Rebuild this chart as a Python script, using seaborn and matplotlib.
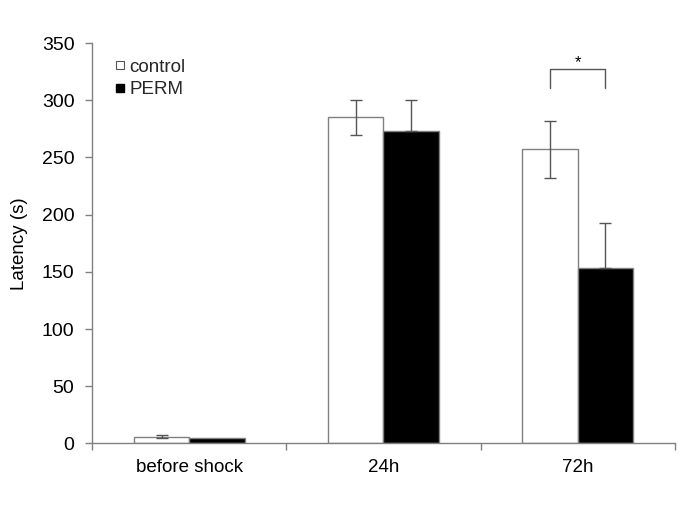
import matplotlib
matplotlib.use("Agg")
import matplotlib.pyplot as plt
import seaborn as sns
import pandas as pd
import numpy as np
from matplotlib.lines import Line2D

categories = ["before shock", "24h", "72h"]
groups = ["control", "PERM"]
control_vals = [6, 285, 257]
perm_vals = [4.5, 273, 153]
control_err = [1, 15, 25]
perm_err = [0, 27, 40]
yticks = [0, 50, 100, 150, 200, 250, 300, 350]

df = pd.DataFrame({
    "cat": categories * 2,
    "group": [groups[0]] * 3 + [groups[1]] * 3,
    "val": control_vals + perm_vals,
})

sns.set_theme(style="white")
plt.rcParams['font.family'] = ['Liberation Sans', 'DejaVu Sans']

fig = plt.figure(figsize=(6.85, 5.13), dpi=100)
ax = fig.add_axes([0.135, 0.1355, 0.8497, 0.7805])

gray = "#808080"
sns.barplot(data=df, x="cat", y="val", hue="group", order=categories,
            hue_order=groups, palette=["white", "black"], width=0.572,
            gap=0, errorbar=None, edgecolor=gray, linewidth=1.0,
            legend=False, ax=ax)

bar_containers = list(ax.containers)

# error bars
errs = [control_err, perm_err]
for ci, cont in enumerate(bar_containers):
    for bi, bar in enumerate(cont):
        x = bar.get_x() + bar.get_width() / 2
        h = bar.get_height()
        e = errs[ci][bi]
        if e <= 0:
            continue
        if ci == 0:
            ax.errorbar(x, h, yerr=e, fmt="none", ecolor="#555555",
                        elinewidth=1.0, capsize=4, capthick=1.0, zorder=5)
        else:
            ax.errorbar(x, h, yerr=[[0], [e]], fmt="none", ecolor="#555555",
                        elinewidth=1.0, capsize=4, capthick=1.0, zorder=5)

# significance bracket at 72h
c72 = bar_containers[0][2]
p72 = bar_containers[1][2]
x1 = c72.get_x() + c72.get_width() / 2
x2 = p72.get_x() + p72.get_width() / 2
ax.plot([x1, x1, x2, x2], [311, 327, 327, 311], color="#555555", lw=1.0)
ax.text((x1 + x2) / 2, 326, "*", ha="center", va="bottom", fontsize=12,
        color="black")

ax.set_ylim(0, 350)
ax.set_xlim(-0.5, 2.5)
ax.set_yticks(yticks)
ax.set_xticks(range(len(categories)))
ax.set_xticklabels(categories)
ax.set_xticks([-0.5, 0.5, 1.5, 2.5], minor=True)
ax.tick_params(axis="x", which="major", length=0, pad=11, labelsize=13.5, colors="black")
ax.tick_params(axis="x", which="minor", length=5, width=1, color=gray, direction="out")
ax.tick_params(axis="y", length=5, width=1, color=gray, direction="out",
               labelsize=14, pad=8, labelcolor="black")
ax.tick_params(axis="x", which="both", bottom=True)
ax.tick_params(axis="y", left=True)

for s in ["top", "right"]:
    ax.spines[s].set_visible(False)
for s in ["left", "bottom"]:
    ax.spines[s].set_color(gray)
    ax.spines[s].set_linewidth(1.0)

ax.set_xlabel("")
ax.set_ylabel("Latency (s)", fontsize=13.5, labelpad=10, color="black")

handles = [
    Line2D([], [], marker="s", linestyle="none", markersize=5.5,
           markerfacecolor="white", markeredgecolor="#555555", markeredgewidth=0.8),
    Line2D([], [], marker="s", linestyle="none", markersize=5.5,
           markerfacecolor="black", markeredgecolor="black"),
]
fig.legend(handles, groups, loc="upper left", bbox_to_anchor=(0.167, 0.886),
           frameon=False, fontsize=13.5, handletextpad=0.19, handlelength=0.6,
           labelspacing=0.3, borderaxespad=0, borderpad=0)

fig.savefig("out.png", dpi=100)
